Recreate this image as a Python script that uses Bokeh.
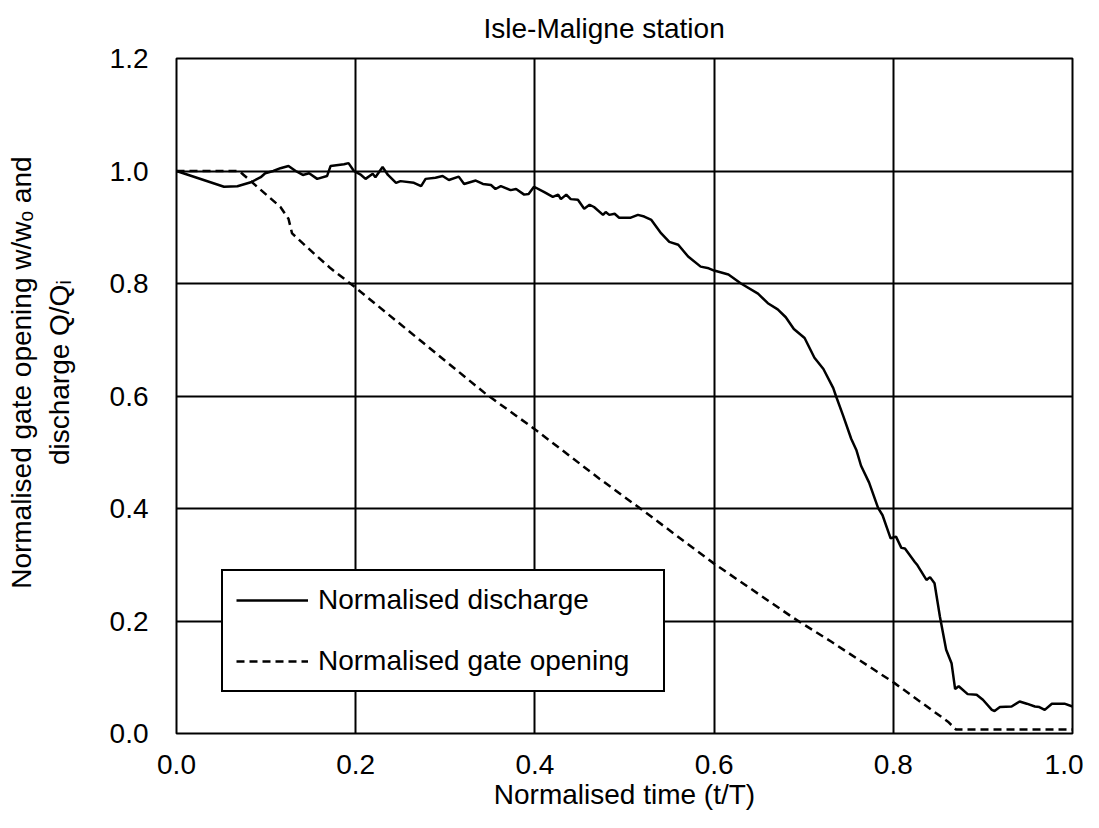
from bokeh.plotting import figure
from bokeh.models import (Range1d, FixedTicker, PrintfTickFormatter, Legend,
                          LegendItem, ColumnDataSource)
from bokeh.embed import file_html
from bokeh.resources import INLINE

# ---------------- data ----------------
t_discharge = [0.000, 0.053, 0.068, 0.083, 0.094, 0.099, 0.108, 0.116, 0.125, 0.133,
               0.141, 0.148, 0.157, 0.168, 0.172, 0.187, 0.192, 0.198, 0.206, 0.211,
               0.219, 0.222, 0.230, 0.236, 0.245, 0.250, 0.265, 0.273, 0.278, 0.289,
               0.297, 0.304, 0.315, 0.321, 0.334, 0.342, 0.351, 0.356, 0.362, 0.373,
               0.379, 0.388, 0.393, 0.399, 0.410, 0.420, 0.426, 0.429, 0.435, 0.440,
               0.448, 0.455, 0.461, 0.466, 0.476, 0.479, 0.483, 0.489, 0.494, 0.507,
               0.515, 0.522, 0.530, 0.541, 0.550, 0.560, 0.571, 0.585, 0.594, 0.600,
               0.616, 0.630, 0.649, 0.660, 0.671, 0.680, 0.689, 0.701, 0.712, 0.722,
               0.733, 0.736, 0.744, 0.753, 0.759, 0.764, 0.773, 0.783, 0.788, 0.797,
               0.803, 0.809, 0.813, 0.824, 0.827, 0.837, 0.841, 0.846, 0.852, 0.859,
               0.865, 0.869, 0.873, 0.883, 0.893, 0.900, 0.910, 0.913, 0.919, 0.932,
               0.941, 0.949, 0.958, 0.963, 0.969, 0.977, 0.991, 1.000]
q_discharge = [1.000, 0.972, 0.973, 0.980, 0.989, 0.996, 1.000, 1.005, 1.009, 1.000,
               0.993, 0.996, 0.986, 0.991, 1.009, 1.012, 1.014, 1.000, 0.993, 0.986,
               0.995, 0.989, 1.007, 0.993, 0.979, 0.982, 0.979, 0.973, 0.986, 0.988,
               0.991, 0.984, 0.990, 0.977, 0.983, 0.977, 0.975, 0.968, 0.973, 0.966,
               0.968, 0.958, 0.959, 0.972, 0.963, 0.954, 0.958, 0.950, 0.958, 0.950,
               0.949, 0.933, 0.940, 0.936, 0.922, 0.927, 0.922, 0.924, 0.917, 0.917,
               0.922, 0.919, 0.913, 0.889, 0.874, 0.869, 0.848, 0.830, 0.827, 0.823,
               0.816, 0.800, 0.782, 0.765, 0.754, 0.740, 0.719, 0.703, 0.668, 0.648,
               0.614, 0.600, 0.565, 0.524, 0.503, 0.476, 0.446, 0.401, 0.388, 0.347,
               0.350, 0.330, 0.329, 0.305, 0.299, 0.273, 0.278, 0.267, 0.208, 0.149,
               0.125, 0.079, 0.084, 0.070, 0.069, 0.060, 0.042, 0.040, 0.047, 0.048,
               0.057, 0.053, 0.048, 0.047, 0.042, 0.053, 0.053, 0.048]

t_gate = [0.000, 0.070, 0.075, 0.090, 0.116, 0.125, 0.129, 0.155, 0.172, 0.198,
          0.345, 0.399, 0.472, 0.521, 0.600, 0.689, 0.731, 0.801, 0.861, 0.870, 1.000]
w_gate = [1.000, 1.000, 0.993, 0.972, 0.936, 0.915, 0.889, 0.851, 0.827, 0.795,
          0.604, 0.542, 0.453, 0.396, 0.302, 0.205, 0.163, 0.090, 0.021, 0.007, 0.007]

x_ticks = [0.0, 0.2, 0.4, 0.6, 0.8, 1.0]
y_ticks = [0.0, 0.2, 0.4, 0.6, 0.8, 1.0, 1.2]

title_text = "Isle-Maligne station"
x_label = "Normalised time (t/T)"
y_label_lines = ["Normalised gate opening w/w\u2092 and", "discharge Q/Q\u1d62"]
series_names = ["Normalised discharge", "Normalised gate opening"]

FONT = "Liberation Sans"
FS = "28px"

# ---------------- figure ----------------
p = figure(width=1083, height=812, output_backend="svg", toolbar_location=None,
           x_range=Range1d(0, 1), y_range=Range1d(0, 1.2),
           min_border_left=176, min_border_right=11,
           min_border_top=57, min_border_bottom=78)
p.background_fill_color = "white"
p.border_fill_color = "white"
p.outline_line_color = "black"
p.outline_line_width = 2
p.outline_line_alpha = 1

p.title.text = title_text
p.title.text_font = FONT
p.title.text_font_size = FS
p.title.text_font_style = "normal"
p.title.text_color = "black"
p.title.align = "left"
p.title.offset = 307
p.title.vertical_align = "top"
p.title.standoff = 25

for ax, ticks in ((p.xaxis, x_ticks), (p.yaxis, y_ticks)):
    ax.ticker = FixedTicker(ticks=ticks)
    ax.formatter = PrintfTickFormatter(format="%.1f")
    ax.axis_line_color = None
    ax.major_tick_line_color = None
    ax.minor_tick_line_color = None
    ax.major_tick_out = 0
    ax.major_tick_in = 0
    ax.major_label_text_font = FONT
    ax.major_label_text_font_size = FS
    ax.major_label_text_color = "black"
    ax.axis_label_text_font = FONT
    ax.axis_label_text_font_size = FS
    ax.axis_label_text_font_style = "normal"
    ax.axis_label_text_color = "black"
p.xaxis.major_label_standoff = 21
p.yaxis.major_label_standoff = 28

p.xaxis.axis_label = x_label
p.xaxis.axis_label_standoff = 2

pad = "\u00a0" * 6
p.yaxis.axis_label = "\n".join(pad + s for s in y_label_lines)
p.yaxis.axis_label_standoff = 32

p.xgrid.ticker = FixedTicker(ticks=x_ticks)
p.ygrid.ticker = FixedTicker(ticks=y_ticks)
for g in (p.xgrid, p.ygrid):
    g.grid_line_color = "black"
    g.grid_line_width = 2
    g.grid_line_alpha = 1

src_d = ColumnDataSource(dict(t=t_discharge, q=q_discharge))
src_g = ColumnDataSource(dict(t=t_gate, w=w_gate))
r_d = p.line("t", "q", source=src_d, line_color="black", line_width=2.5)
r_g = p.line("t", "w", source=src_g, line_color="black", line_width=2.5,
             line_dash="8 5")

legend = Legend(items=[LegendItem(label=series_names[0], renderers=[r_d]),
                       LegendItem(label=series_names[1], renderers=[r_g])],
                location=(45, 41), orientation="vertical",
                border_line_color="black", border_line_width=2, border_line_alpha=1,
                background_fill_color="white", background_fill_alpha=1,
                padding=13, spacing=29, margin=0,
                glyph_width=72, glyph_height=20, label_standoff=10,
                label_width=332,
                label_text_font=FONT, label_text_font_size=FS,
                label_text_color="black")
p.add_layout(legend, "center")

open("out.html", "w").write(file_html(p, INLINE))
